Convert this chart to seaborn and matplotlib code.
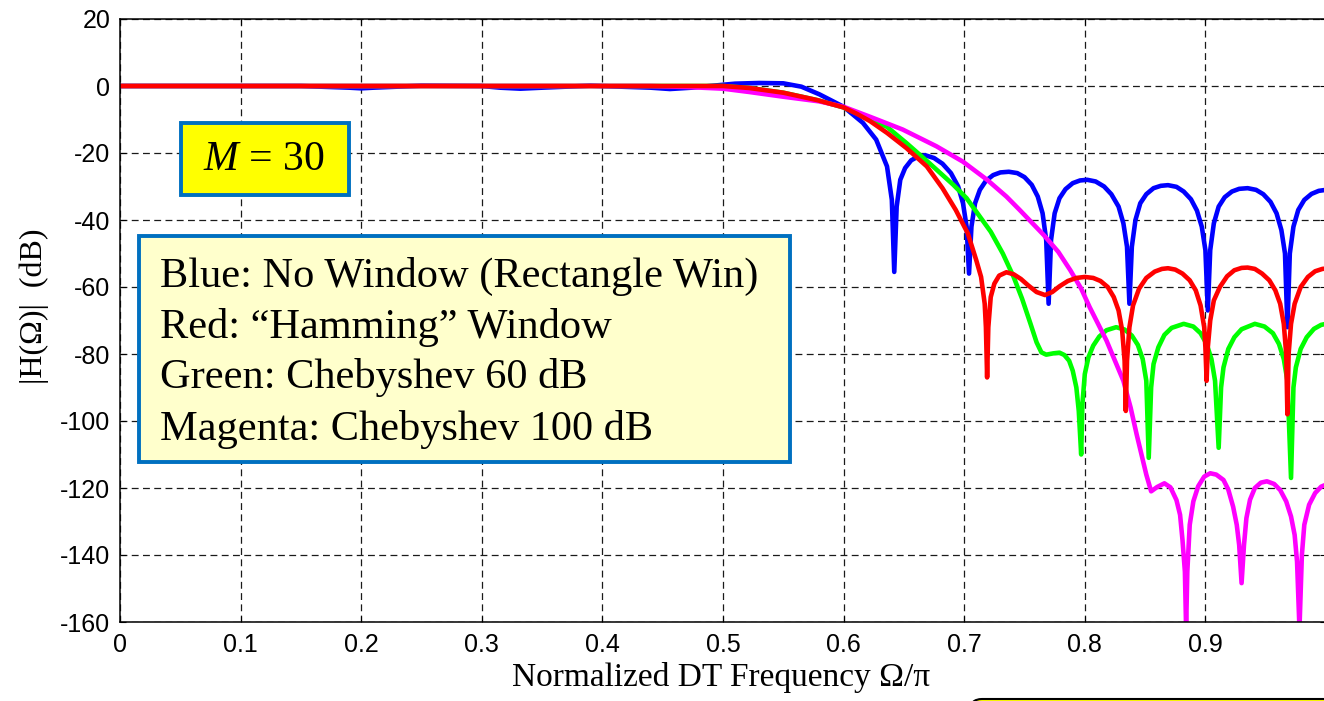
import numpy as np
import pandas as pd
import matplotlib
matplotlib.use("Agg")
import matplotlib.pyplot as plt
import seaborn as sns
from matplotlib.patches import Rectangle, FancyBboxPatch

# ---------------- data ----------------
blue_x = [0, 0.15, 0.19, 0.2, 0.21, 0.25, 0.3, 0.315, 0.332, 0.35, 0.39, 0.44, 0.456, 0.474,
          0.495, 0.51, 0.53, 0.55, 0.565, 0.58, 0.6, 0.616, 0.627, 0.636, 0.640, 0.642,
          0.644, 0.647, 0.651, 0.656, 0.662, 0.668, 0.675, 0.682, 0.689, 0.695, 0.699, 0.702, 0.704,
          0.706, 0.709, 0.713, 0.718, 0.724, 0.730, 0.737, 0.744, 0.750, 0.756, 0.761, 0.765, 0.768, 0.770,
          0.772, 0.775, 0.779, 0.784, 0.790, 0.796, 0.802, 0.809, 0.816, 0.822, 0.828, 0.832, 0.835, 0.837,
          0.839, 0.842, 0.846, 0.851, 0.857, 0.863, 0.869, 0.876, 0.882, 0.888, 0.893, 0.897, 0.900, 0.902,
          0.904, 0.907, 0.911, 0.916, 0.922, 0.928, 0.935, 0.942, 0.948, 0.954, 0.959, 0.963, 0.966, 0.968,
          0.970, 0.973, 0.977, 0.982, 0.988, 0.994, 1.0]
blue_y = [0, 0, -0.5, -0.7, -0.5, 0.1, 0, -0.5, -0.8, -0.5, 0.1, -0.5, -0.9, -0.5,
          0.2, 0.7, 0.9, 0.8, -0.2, -2.5, -6.2, -11, -16, -24, -34, -55.5,
          -36, -28, -24.5, -22.2, -21, -20.7, -21.5, -23.2, -26, -30, -35, -42, -56,
          -42, -35, -31, -28.3, -26.6, -25.8, -25.6, -26, -27.2, -29.5, -33, -38, -46, -65,
          -46, -38, -33.5, -30.8, -29, -28.2, -28, -28.5, -30, -32.3, -36, -41, -48, -65,
          -48, -40, -35, -32.3, -30.5, -29.8, -29.6, -30.1, -31.5, -33.8, -37.2, -42, -49, -67,
          -49, -41, -36, -33.2, -31.5, -30.7, -30.5, -31, -32.3, -34.6, -38, -43, -50, -72,
          -50, -42, -37, -34, -32.2, -31.3, -31]

red_x = [0, 0.5, 0.522, 0.55, 0.578, 0.6, 0.611, 0.622, 0.636, 0.652, 0.669, 0.682, 0.693, 0.703,
         0.710, 0.714, 0.717, 0.718, 0.719, 0.720, 0.722, 0.725, 0.729, 0.735, 0.741, 0.747,
         0.753, 0.760, 0.767, 0.773, 0.779, 0.786, 0.793, 0.800, 0.807, 0.813, 0.819, 0.824,
         0.828, 0.831, 0.833, 0.834, 0.835, 0.837, 0.840, 0.845, 0.851, 0.858, 0.864, 0.869,
         0.875, 0.881, 0.887, 0.892, 0.896, 0.899, 0.900, 0.901, 0.902, 0.904, 0.907, 0.912,
         0.918, 0.924, 0.930, 0.935, 0.941, 0.947, 0.953, 0.958, 0.962, 0.965, 0.967, 0.968,
         0.969, 0.971, 0.974, 0.979, 0.985, 0.991, 0.997, 1.0]
red_y = [0, 0, -0.6, -2, -4.2, -6.4, -8.3, -10.5, -14, -18.5, -24, -30.5, -37, -44,
         -52, -57, -65, -72, -87, -72, -63, -59, -56.6, -55.6, -56.2, -57.6,
         -59.5, -61.5, -62.4, -61.5, -59.8, -58.2, -57.3, -57, -57.3, -58.2, -60, -63,
         -67, -73, -82, -97, -82, -72, -65.5, -60.5, -57.3, -55.4, -54.6, -54.4,
         -54.8, -56, -58, -61, -65.5, -72, -78, -88, -78, -70, -64, -60,
         -56.8, -55, -54.3, -54.2, -54.6, -56, -58, -61, -65, -71, -80, -98,
         -80, -71, -65, -60, -57, -55.3, -54.6, -54.5]

green_x = [0, 0.5, 0.522, 0.55, 0.578, 0.6, 0.611, 0.622, 0.636, 0.652, 0.671, 0.691, 0.702,
           0.713, 0.722, 0.732, 0.741, 0.748, 0.755, 0.760, 0.764, 0.768, 0.774, 0.779, 0.783,
           0.787, 0.790, 0.793, 0.795, 0.797,
           0.798, 0.800, 0.803, 0.807, 0.812, 0.818, 0.826, 0.833, 0.839, 0.844, 0.848, 0.851, 0.853,
           0.855, 0.857, 0.861, 0.866, 0.872, 0.882, 0.890, 0.896, 0.901, 0.905, 0.908, 0.911,
           0.913, 0.915, 0.919, 0.924, 0.930, 0.941, 0.949, 0.956, 0.961, 0.965, 0.968, 0.971,
           0.973, 0.975, 0.979, 0.984, 0.990, 0.996, 1.0]
green_y = [0, 0, -0.6, -2, -4.2, -6.4, -8.2, -10, -12.2, -17, -23, -29.5, -33.5,
           -39, -43.5, -50, -57, -63.5, -71, -76.5, -79.5, -80.2, -79.8, -79.6, -80.3,
           -82, -85, -90, -97, -110,
           -95, -86, -81, -77.5, -74.8, -72.9, -72, -72.7, -74.5, -77.3, -81.5, -88, -111,
           -90, -83, -78, -74.3, -72.2, -71, -71.8, -73.8, -77, -81.5, -88, -108,
           -90, -84, -78.5, -75, -72.6, -71, -71.8, -73.8, -77, -81.5, -88, -117,
           -90, -84, -78.5, -75, -72.5, -71.3, -71]

mag_x = [0, 0.44, 0.47, 0.5, 0.522, 0.55, 0.58, 0.6, 0.622, 0.649, 0.677, 0.699, 0.719, 0.735,
         0.746, 0.766, 0.778, 0.788, 0.797, 0.804, 0.811, 0.818, 0.825, 0.832, 0.838, 0.843,
         0.847, 0.851, 0.855, 0.860, 0.866, 0.871, 0.876, 0.879, 0.881, 0.883, 0.884, 0.885,
         0.887, 0.890, 0.894, 0.899, 0.904, 0.909, 0.915, 0.919, 0.923, 0.926, 0.928, 0.930,
         0.932, 0.934, 0.937, 0.941, 0.946, 0.951, 0.957, 0.962, 0.967, 0.971, 0.974, 0.976,
         0.978, 0.980, 0.982, 0.986, 0.991, 0.996, 1.0]
mag_y = [0, 0, -0.3, -0.8, -1.8, -3.2, -4.6, -6.2, -9.2, -13, -18, -22.6, -28, -33,
         -37, -44.5, -49.5, -55, -60.5, -66, -71, -76, -82, -88, -96, -104,
         -110, -116, -121, -119.7, -118.6, -119.8, -123.6, -128, -135.5, -145, -162, -145,
         -131, -124, -119.5, -116.6, -115.6, -116, -117.6, -120.5, -125.6, -131, -137, -148.4,
         -137, -129, -123.5, -120, -118.4, -118, -118.8, -120.6, -124, -128.5, -134, -142,
         -162, -140, -131, -125, -121.5, -119.6, -119]

x_ticks = [0, 0.1, 0.2, 0.3, 0.4, 0.5, 0.6, 0.7, 0.8, 0.9]
x_tick_labels = ["0", "0.1", "0.2", "0.3", "0.4", "0.5", "0.6", "0.7", "0.8", "0.9"]
y_ticks = [20, 0, -20, -40, -60, -80, -100, -120, -140, -160]
y_tick_labels = ["20", "0", "-20", "-40", "-60", "-80", "-100", "-120", "-140", "-160"]

legend_lines = ["Blue: No Window (Rectangle Win)",
                "Red: \u201cHamming\u201d Window",
                "Green: Chebyshev 60 dB",
                "Magenta: Chebyshev 100 dB"]

series = [("Blue", blue_x, blue_y), ("Green", green_x, green_y),
          ("Magenta", mag_x, mag_y), ("Red", red_x, red_y)]
df = pd.concat([pd.DataFrame({"f": sx, "dB": sy, "win": name}) for name, sx, sy in series],
               ignore_index=True)
palette = {"Blue": "#0000FF", "Green": "#00FF00", "Magenta": "#FF00FF", "Red": "#FF0000"}

# ---------------- style ----------------
sns.set_style("ticks")
plt.rcParams["font.family"] = ["Liberation Sans", "DejaVu Sans"]
plt.rcParams["axes.unicode_minus"] = False
plt.rcParams["mathtext.fontset"] = "custom"
plt.rcParams["mathtext.rm"] = "Liberation Serif"
plt.rcParams["mathtext.it"] = "Liberation Serif:italic"
for k in ["text.color", "axes.labelcolor", "xtick.color", "ytick.color"]:
    plt.rcParams[k] = "black"

W, H = 1324, 701
fig = plt.figure(figsize=(W / 100, H / 100), dpi=100)
fig.patch.set_facecolor("white")
ax = fig.add_axes([120 / W, (H - 622) / H, (1326 - 120) / W, (622 - 19) / H])
ax.set_facecolor("white")

sns.lineplot(data=df, x="f", y="dB", hue="win", hue_order=["Blue", "Green", "Magenta", "Red"],
             palette=palette, estimator=None, sort=False, legend=False, ax=ax,
             linewidth=3.3, solid_joinstyle="round", solid_capstyle="round")

ax.set_xlim(0, 1)
ax.set_ylim(-160, 20)
ax.set_xticks(x_ticks)
ax.set_xticklabels(x_tick_labels)
ax.set_yticks(y_ticks)
ax.set_yticklabels(y_tick_labels)
ax.set_xlabel("")
ax.set_ylabel("")
ax.grid(True, color="#1a1a1a", linestyle=(0, (5.5, 3.5)), linewidth=0.9)
ax.tick_params(direction="in", length=4, width=0.8, top=True, right=True,
               labelsize=18, colors="black")
ax.tick_params(axis="x", pad=8)
ax.tick_params(axis="y", pad=7)
for s in ax.spines.values():
    s.set_color("black")
    s.set_linewidth(1.1)
    s.set_visible(True)

serif = ["Liberation Serif", "DejaVu Serif"]
fig.text(721 / W, 1 - 686 / H, "Normalized DT Frequency \u03a9/\u03c0", ha="center",
         va="baseline", fontsize=24, family=serif, color="black")
fig.text(34 / W, 1 - 306 / H, "|H(\u03a9)|  (dB)", ha="center", va="center",
         rotation=90, fontsize=23, family=serif, color="black")

# M = 30 box
fig.add_artist(Rectangle((181 / W, 1 - 195 / H), (349 - 181) / W, (195 - 123) / H,
                         transform=fig.transFigure, facecolor="#FFFF00",
                         edgecolor="#0070C0", linewidth=2.8, zorder=5))
fig.text(264 / W, 1 - 160 / H, r"$M$ = 30", ha="center", va="center", fontsize=30,
         family=serif, color="black", zorder=6)

# legend box
fig.add_artist(Rectangle((139 / W, 1 - 462 / H), (790 - 139) / W, (462 - 236) / H,
                         transform=fig.transFigure, facecolor="#FFFFCC",
                         edgecolor="#0070C0", linewidth=2.8, zorder=5))
for line, base in zip(legend_lines, [287, 338, 388, 440]):
    fig.text(160 / W, 1 - base / H, line, ha="left", va="baseline", fontsize=30.5,
             family=serif, color="black", zorder=6)

# partially visible box at the bottom right
fig.add_artist(FancyBboxPatch((9.70, -0.4), 4.0, 0.42,
                              boxstyle="round,pad=0,rounding_size=0.12",
                              transform=fig.dpi_scale_trans, facecolor="#FFFF00",
                              edgecolor="black", linewidth=1.5, zorder=5))

fig.savefig("out.png", dpi=100)
